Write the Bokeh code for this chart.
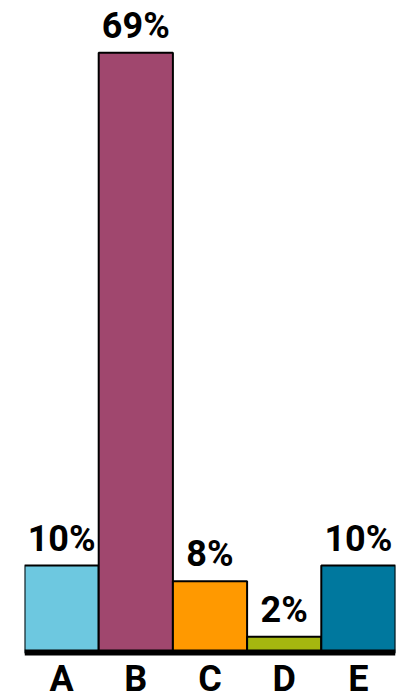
from bokeh.plotting import figure
from bokeh.models import ColumnDataSource, FactorRange, Range1d
from bokeh.core.properties import value
from bokeh.embed import file_html
from bokeh.resources import INLINE

categories = ["A", "B", "C", "D", "E"]
values = [10.0, 69.0, 8.2, 1.8, 10.0]
value_labels = ["10%", "69%", "8%", "2%", "10%"]
colors = ["#6DC8E0", "#A0476E", "#FF9900", "#A5B70F", "#00789E"]

src = ColumnDataSource(dict(cat=categories, val=values, lab=value_labels,
                            col=colors, zero=[0] * len(categories)))

p = figure(width=396, height=693, x_range=FactorRange(*categories, range_padding=0),
           y_range=Range1d(-4.716, 75.0), output_backend="svg", toolbar_location=None,
           x_axis_location=None, y_axis_location=None,
           min_border_left=24, min_border_right=1, min_border_top=0, min_border_bottom=0)
p.outline_line_color = None
p.grid.visible = False
p.background_fill_color = "white"
p.border_fill_color = "white"

p.vbar(x="cat", top="val", bottom=0, width=1.0, fill_color="col",
       line_color="black", line_width=2, source=src)

p.hspan(y=[0], line_color="black", line_width=6)

p.text(x="cat", y="val", text="lab", source=src, text_align="center",
       text_baseline="alphabetic", y_offset=-27, text_font=value("Roboto"),
       text_font_style="bold", text_font_size="36px", text_color="black")

p.text(x="cat", y="zero", text="cat", source=src, text_align="center",
       text_baseline="alphabetic", y_offset=26, text_font=value("Roboto"),
       text_font_style="bold", text_font_size="36px", text_color="black")

open("out.html", "w").write(file_html(p, INLINE))
